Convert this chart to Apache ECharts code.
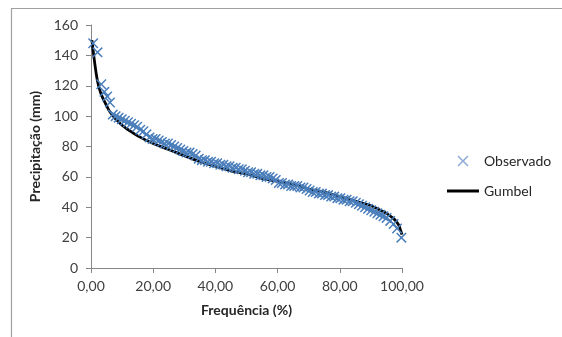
<!DOCTYPE html>
<html><head><meta charset="utf-8">
<script src="https://cdn.jsdelivr.net/npm/echarts@6/dist/echarts.min.js"></script>
<style>html,body{margin:0;padding:0;background:#fff}#c{width:562px;height:337px}</style>
</head><body><div id="c"></div>
<script>
// Observed: frequency (%) and precipitation (mm)
const obsFreq = [0.7,2.1,3.3,4.3,5.2,6.1,7.0,7.92,8.91,9.90,10.89,11.88,12.87,13.86,14.85,15.84,16.83,17.82,18.81,19.80,20.79,21.78,22.77,23.76,24.75,25.74,26.73,27.72,28.71,29.70,30.69,31.68,32.67,33.66,34.65,35.64,36.63,37.62,38.61,39.60,40.59,41.58,42.57,43.56,44.55,45.54,46.53,47.52,48.51,49.50,50.50,51.49,52.48,53.47,54.46,55.45,56.44,57.43,58.42,59.41,60.40,61.39,62.38,63.37,64.36,65.35,66.34,67.33,68.32,69.31,70.30,71.29,72.28,73.27,74.26,75.25,76.24,77.23,78.22,79.21,80.20,81.19,82.18,83.17,84.16,85.15,86.14,87.13,88.12,89.11,90.10,91.09,92.08,93.07,94.06,95.05,96.2,97.3,98.4,99.8];
const obsPrec = [148,142,121,116,113,109,101,100,99,98,97,96,95,94,93,91,90,88,86,85,85,84,83,82,82,81,80,79,78,77,76,76,75,74,72,71,71,70,70,69,69,68,68,67,67,66,66,65,65,64,63,63,62,62,61,61,60,60,59,58,56,56,55,55,54,54,54,53,53,52,51,50,50,49,49,48,48,47,47,46,46,45,45,44,44,43,42,41,40,39,38,37,36,35,34,33,31,29,26,20];
// Gumbel fitted curve
const gumFreq = [0.3,1,2,3,4,5,6,8,10,12,15,20,25,30,35,40,45,50,55,60,65,70,75,80,85,90,93,95,97,98,99,99.5,100];
const gumPrec = [150,138,124,116,111,107,103,98,94,91,87,82,78,74,70,67,64,62,59,57,55,52,50,47,44,41,38,36,33,31,28,25,22];
const yTicks = {min:0, max:160, interval:20};
const xTicks = {min:0, max:100, interval:20};

const xPath = 'path://M0,1L1,0L5,4L9,0L10,1L6,5L10,9L9,10L5,6L1,10L0,9L4,5Z';
const linePath = 'path://M0,0H32V3H0Z';
const font = 'Lato, "Open Sans", sans-serif';
const chart = echarts.init(document.getElementById('c'));
chart.setOption({
  animation:false,
  graphic:[{type:'rect', shape:{x:11.5,y:8.5,width:600,height:400}, style:{fill:'none', stroke:'#a0a0a0', lineWidth:1.2}, silent:true, z:-1}],
  grid:{left:91, right:160, top:25, bottom:69},
  xAxis:{type:'value', min:xTicks.min, max:xTicks.max, interval:xTicks.interval,
    name:'Frequência (%)', nameLocation:'middle', nameGap:35,
    nameTextStyle:{fontFamily:font, fontWeight:'bold', fontSize:14, color:'#262626'},
    axisLine:{lineStyle:{color:'#868686'}}, axisTick:{show:true, length:5, lineStyle:{color:'#868686'}},
    axisLabel:{fontFamily:font, fontSize:14, color:'#404040', margin:11, formatter:v=>v.toFixed(2).replace('.',',')},
    splitLine:{show:false}},
  yAxis:{type:'value', min:yTicks.min, max:yTicks.max, interval:yTicks.interval,
    name:'Precipitação (mm)', nameLocation:'middle', nameGap:43,
    nameTextStyle:{fontFamily:font, fontWeight:'bold', fontSize:14, color:'#262626'},
    axisLine:{show:true, lineStyle:{color:'#868686'}}, axisTick:{show:true, length:5, lineStyle:{color:'#868686'}},
    axisLabel:{fontFamily:font, fontSize:14, color:'#404040', margin:13},
    splitLine:{show:false}},
  legend:{orient:'vertical', left:442, top:149, itemWidth:32, itemHeight:11, itemGap:16,
    textStyle:{fontFamily:font, fontSize:14, color:'#262626'},
    data:[{name:'Observado', icon:xPath, itemStyle:{color:'#8eacd6'}}, {name:'Gumbel', icon:linePath}]},
  series:[
    {name:'Gumbel', type:'line', data:gumFreq.map((f,i)=>[f,gumPrec[i]]), smooth:0.4, showSymbol:false, symbol:'none',
     lineStyle:{color:'#000', width:2.8}, itemStyle:{color:'#000'}, z:2},
    {name:'Observado', type:'scatter', data:obsFreq.map((f,i)=>[f,obsPrec[i]]), symbol:xPath, symbolSize:10.5,
     itemStyle:{color:'#4a7ebb', opacity:1}, z:3}
  ]
});
</script></body></html>
